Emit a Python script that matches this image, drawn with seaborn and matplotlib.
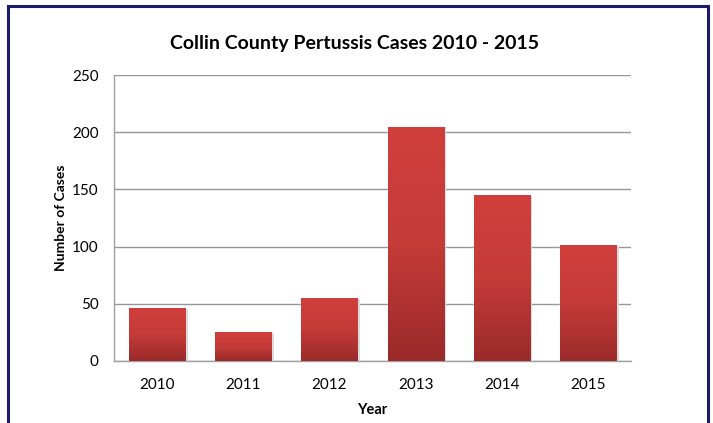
import numpy as np
import pandas as pd
import matplotlib
matplotlib.use('Agg')
import matplotlib.pyplot as plt
import matplotlib.patches as mpatches
from matplotlib.colors import LinearSegmentedColormap
import seaborn as sns

years = ['2010', '2011', '2012', '2013', '2014', '2015']
cases = [46, 25, 55, 205, 145, 101]
y_ticks = [0, 50, 100, 150, 200, 250]

df = pd.DataFrame({'Year': years, 'Cases': cases})

sns.set_style('white')
plt.rcParams['font.family'] = ['Lato', 'DejaVu Sans']
plt.rcParams['text.color'] = 'black'
plt.rcParams['axes.labelcolor'] = 'black'
plt.rcParams['xtick.color'] = 'black'
plt.rcParams['ytick.color'] = 'black'

fig = plt.figure(figsize=(7.13, 4.23), dpi=100)
ax = fig.add_axes([0.160, 0.1466, 0.725, 0.676])

sns.barplot(data=df, x='Year', y='Cases', color='#c0393a', width=0.65,
            saturation=1, ax=ax, zorder=3)

# vertical gradient on each bar (light red top -> dark red bottom)
cmap = LinearSegmentedColormap.from_list('bar', ['#9a2a2a', '#c43b38', '#d13f3c'])
grad = np.linspace(0, 1, 256).reshape(-1, 1)
for p in ax.patches:
    x0, y0 = p.get_x(), p.get_y()
    w, h = p.get_width(), p.get_height()
    # soft shadow
    ax.add_patch(mpatches.Rectangle((x0 + 0.03, y0), w, h - 0.8, facecolor='#d8d8d8',
                                    edgecolor='none', zorder=2))
    im = ax.imshow(grad, cmap=cmap, aspect='auto', origin='lower',
                   extent=[x0, x0 + w, y0, y0 + h], zorder=4)
    im.set_clip_path(p)

ax.set_xlim(-0.5, 5.5)
ax.set_ylim(0, 250)
ax.set_yticks(y_ticks)
ax.yaxis.grid(True, color='#979797', linewidth=1)
ax.set_axisbelow(True)

for s in ['top', 'right']:
    ax.spines[s].set_visible(False)
for s in ['left', 'bottom']:
    ax.spines[s].set_color('#a0a0a0')
    ax.spines[s].set_linewidth(1)

ax.set_xticks(np.arange(-0.5, 6, 1), minor=True)
ax.tick_params(axis='x', which='major', length=0, labelsize=11, pad=12)
ax.tick_params(axis='x', which='minor', length=5, color='#a0a0a0', direction='out')
ax.tick_params(axis='y', length=5, color='#a0a0a0', direction='out', labelsize=11, pad=6)

ax.set_xlabel('Year', fontsize=10.5, fontweight='bold', labelpad=8)
ax.set_ylabel('Number of Cases', fontsize=10, fontweight='bold')
ax.yaxis.set_label_coords(-0.092, 0.5)
fig.text(0.497, 0.897, 'Collin County Pertussis Cases 2010 - 2015', ha='center',
         va='center', fontsize=14, fontweight='bold')

# outer frame
fig.patches.append(mpatches.Rectangle((8 / 713, -0.05), 700 / 713, 1.05 - 6 / 423,
                                      transform=fig.transFigure, fill=False,
                                      edgecolor='#1c1c6b', linewidth=2.2))

fig.savefig('out.png', dpi=100)
